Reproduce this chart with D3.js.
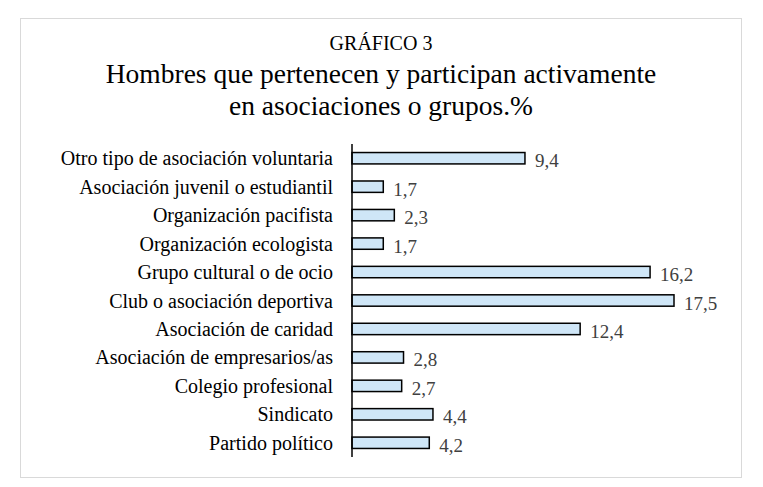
<!DOCTYPE html>
<html><head><meta charset="utf-8">
<script src="https://cdn.jsdelivr.net/npm/d3@7"></script>
<style>body{margin:0;background:#fff;font-family:"Liberation Serif","Times New Roman",serif;}</style>
</head><body>
<script>
const categories = ["Otro tipo de asociación voluntaria","Asociación juvenil o estudiantil","Organización pacifista","Organización ecologista","Grupo cultural o de ocio","Club o asociación deportiva","Asociación de caridad","Asociación de empresarios/as","Colegio profesional","Sindicato","Partido político"];
const values = [9.4,1.7,2.3,1.7,16.2,17.5,12.4,2.8,2.7,4.4,4.2];

const svg = d3.select("body").append("svg").attr("width",763).attr("height",487);
svg.append("rect").attr("x",20.5).attr("y",18.5).attr("width",721).attr("height",459)
  .attr("fill","#fff").attr("stroke","#d9d9d9");

svg.append("text").attr("x",381).attr("y",50).attr("text-anchor","middle")
  .attr("font-size",20).text("GRÁFICO 3");
svg.append("text").attr("x",381).attr("y",83).attr("text-anchor","middle")
  .attr("font-size",27.5).text("Hombres que pertenecen y participan activamente");
svg.append("text").attr("x",381).attr("y",115).attr("text-anchor","middle")
  .attr("font-size",27.5).text("en asociaciones o grupos.%");

const x = d3.scaleLinear().domain([0,10]).range([352,536]);
const y = d3.scaleBand().domain(categories).range([144,457]).paddingInner(0.6).paddingOuter(0.3);

svg.selectAll("rect.bar").data(values).join("rect").attr("class","bar")
  .attr("x",x(0)).attr("y",(d,i)=>y(categories[i]))
  .attr("width",d=>x(d)-x(0)).attr("height",y.bandwidth())
  .attr("fill","#cfe6f7").attr("stroke","#000").attr("stroke-width",1.5);

svg.selectAll("text.val").data(values).join("text").attr("class","val")
  .attr("x",d=>x(d)+10).attr("y",(d,i)=>y(categories[i])+y.bandwidth()/2+9)
  .attr("font-size",19).attr("fill","#404040")
  .text(d=>d3.format(".1f")(d).replace(".",","));

svg.selectAll("text.cat").data(categories).join("text").attr("class","cat")
  .attr("x",333).attr("y",d=>y(d)+y.bandwidth()/2+7)
  .attr("text-anchor","end").attr("font-size",20).attr("fill","#000").text(d=>d);

svg.append("line").attr("x1",352).attr("x2",352).attr("y1",144).attr("y2",457)
  .attr("stroke","#000").attr("stroke-width",1.5);
</script>
</body></html>
